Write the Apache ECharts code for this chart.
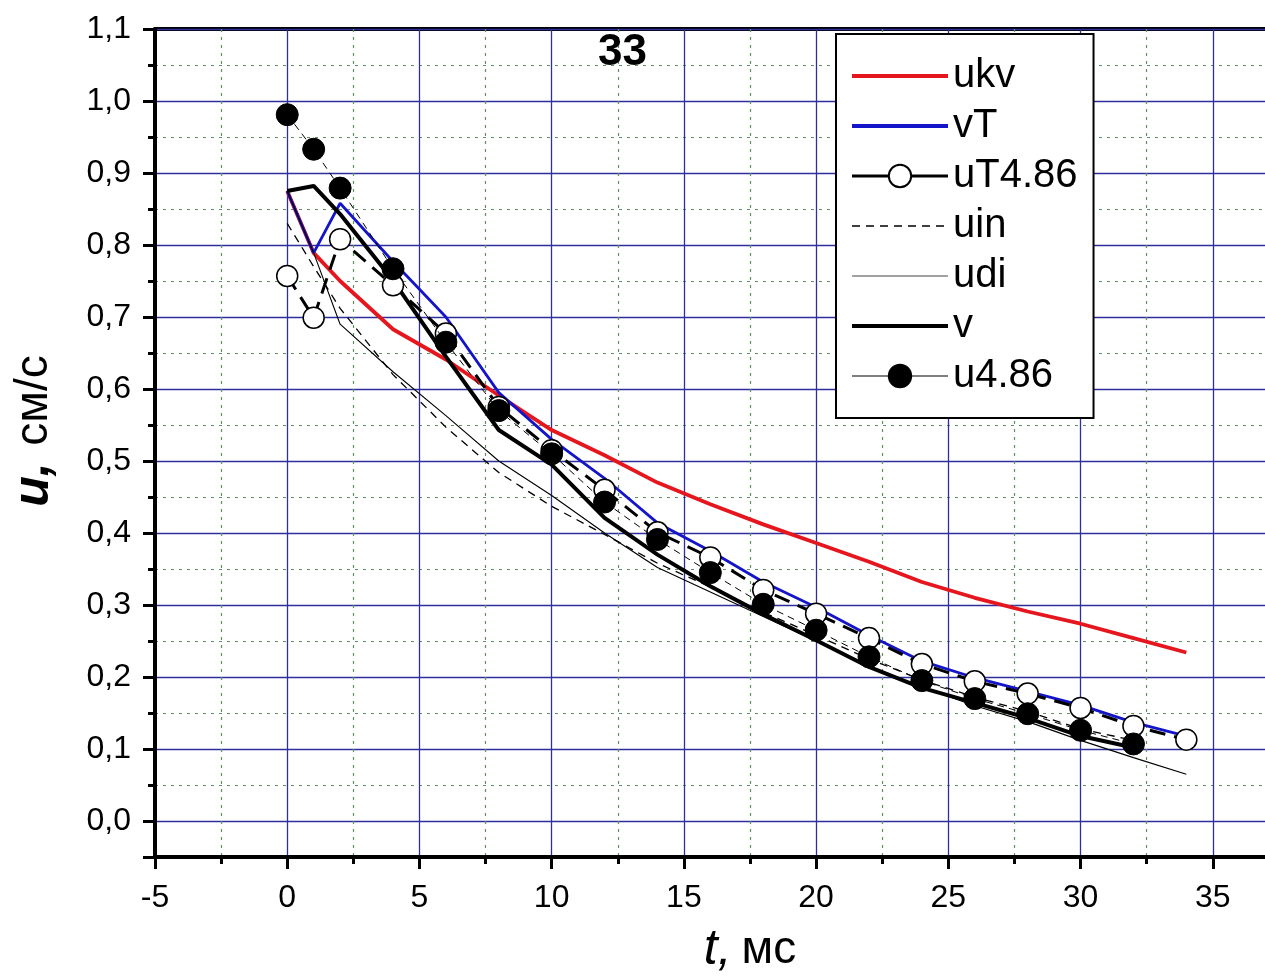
<!DOCTYPE html>
<html>
<head>
<meta charset="utf-8">
<script src="https://cdn.jsdelivr.net/npm/echarts@6/dist/echarts.min.js"></script>
<style>
  html, body { margin: 0; padding: 0; background: #fff; overflow: hidden; }
  /* the plot runs on past the right edge of the window, as the grid does */
  #chart { width: 1345px; height: 979px; }
</style>
</head>
<body>
<div id="chart"></div>
<script>
// Time grids (ms)
const tLong = [0, 1, 2, 4, 6, 8, 10, 12, 14, 16, 18, 20, 22, 24, 26, 28, 30, 32, 34];
const tShort = [0, 1, 2, 4, 6, 8, 10, 12, 14, 16, 18, 20, 22, 24, 26, 28, 30, 32];

// Velocity series (cm/s)
const ukv = [0.875, 0.789, 0.750, 0.683, 0.641, 0.591, 0.543, 0.508, 0.470, 0.440, 0.412, 0.386, 0.360, 0.332, 0.310, 0.291, 0.274, 0.254, 0.234];
const vT = [0.875, 0.789, 0.858, 0.777, 0.700, 0.595, 0.530, 0.476, 0.414, 0.375, 0.332, 0.297, 0.258, 0.222, 0.199, 0.180, 0.161, 0.137, 0.118];
const uT486 = [0.757, 0.699, 0.808, 0.744, 0.677, 0.575, 0.515, 0.460, 0.401, 0.366, 0.321, 0.288, 0.254, 0.218, 0.194, 0.177, 0.157, 0.132, 0.113];
const uin = [0.830, 0.770, 0.712, 0.620, 0.547, 0.484, 0.437, 0.398, 0.358, 0.325, 0.290, 0.258, 0.225, 0.196, 0.172, 0.152, 0.128, 0.112];
const udi = [0.875, 0.789, 0.690, 0.624, 0.563, 0.500, 0.452, 0.400, 0.352, 0.318, 0.284, 0.250, 0.215, 0.186, 0.160, 0.138, 0.112, 0.088, 0.065];
const v = [0.875, 0.882, 0.843, 0.751, 0.645, 0.543, 0.495, 0.421, 0.370, 0.326, 0.287, 0.251, 0.214, 0.185, 0.164, 0.143, 0.118, 0.102];
const u486 = [0.981, 0.933, 0.879, 0.767, 0.665, 0.570, 0.510, 0.443, 0.391, 0.345, 0.301, 0.265, 0.228, 0.195, 0.170, 0.149, 0.126, 0.107];

const chartTitle = '33';

const zip = (ts, vs) => vs.map((y, i) => [ts[i], y]);

const SANS = "'Liberation Sans', Arial, sans-serif";
const MAJOR = '#2e2e9e';
const MINOR = '#5f8f62';
const RED = '#e5161d';
const BLUE = '#1414c8';

const chart = echarts.init(document.getElementById('chart'), null, { renderer: 'canvas' });

const commaFmt = (val) => (val < -0.001 ? '' : val.toFixed(1).replace('.', ','));
const noMarker = { opacity: 0 };

chart.setOption({
  animation: false,
  backgroundColor: '#fff',
  title: {
    text: chartTitle,
    left: 593,
    top: 26,
    textStyle: { fontFamily: SANS, fontWeight: 'bold', fontSize: 44, color: '#000' }
  },
  grid: { left: 155, top: 29, right: 0, bottom: 122, containLabel: false, outerBoundsMode: 'none' },
  legend: {
    orient: 'vertical',
    left: 836,
    top: 34,
    padding: [22, 16, 22, 14],
    itemWidth: 96,
    itemHeight: 28,
    itemGap: 10,
    backgroundColor: '#fff',
    borderColor: '#000',
    borderWidth: 2,
    textStyle: { fontFamily: SANS, fontSize: 40, color: '#000' },
    data: [
      { name: 'ukv', itemStyle: noMarker, lineStyle: { color: RED, width: 4 } },
      { name: 'vT', itemStyle: noMarker, lineStyle: { color: BLUE, width: 4 } },
      { name: 'uT4.86', lineStyle: { type: 'solid', width: 3, color: '#000' } },
      { name: 'uin', itemStyle: noMarker, lineStyle: { type: [8, 6], width: 1.5, color: '#000' } },
      { name: 'udi', itemStyle: noMarker, lineStyle: { width: 1, color: '#444' } },
      { name: 'v', itemStyle: noMarker, lineStyle: { width: 4, color: '#000' } },
      { name: 'u4.86', lineStyle: { type: 'solid', color: '#555', width: 1.5 } }
    ]
  },
  xAxis: [
    {
      type: 'value',
      min: -5,
      max: 40,
      interval: 5,
      position: 'bottom',
      name: '{i|t,}   {n|мс}',
      nameLocation: 'middle',
      nameGap: 68,
      nameTextStyle: {
        rich: {
          i: { fontFamily: SANS, fontStyle: 'italic', fontSize: 50, color: '#000' },
          n: { fontFamily: SANS, fontSize: 46, color: '#000' }
        }
      },
      axisLine: { show: true, onZero: false, lineStyle: { color: '#000', width: 4 } },
      axisTick: { show: true, length: 12, lineStyle: { color: '#000', width: 3 } },
      minorTick: { show: true, splitNumber: 2, length: 7, lineStyle: { color: '#000', width: 3 } },
      axisLabel: {
        margin: 25,
        fontFamily: SANS,
        fontSize: 32,
        color: '#000',
        formatter: (val) => (val % 5 === 0 ? String(val) : '')
      },
      splitLine: { show: true, lineStyle: { color: MAJOR, width: 1.3 } },
      minorSplitLine: { show: true, lineStyle: { color: MINOR, width: 1.2, type: [3, 5] } },
      z: 2
    },
    {
      type: 'value',
      min: -5,
      max: 40,
      interval: 5,
      position: 'top',
      axisLine: { show: true, onZero: false, lineStyle: { color: '#000', width: 4 } },
      axisTick: { show: false },
      axisLabel: { show: false },
      splitLine: { show: false }
    }
  ],
  yAxis: [
    {
      type: 'value',
      min: -0.05,
      max: 1.1,
      splitNumber: 11,
      position: 'left',
      name: '{i|u,}     {n|см/с}',
      nameLocation: 'middle',
      nameRotate: 90,
      nameGap: 96,
      nameTextStyle: {
        padding: [0, 0, 0, 24],
        rich: {
          i: { fontFamily: SANS, fontStyle: 'italic', fontWeight: 'bold', fontSize: 50, color: '#000' },
          n: { fontFamily: SANS, fontSize: 46, color: '#000' }
        }
      },
      axisLine: { show: true, onZero: false, lineStyle: { color: '#000', width: 4 } },
      axisTick: { show: true, length: 12, lineStyle: { color: '#000', width: 3 } },
      axisLabel: { margin: 24, fontFamily: SANS, fontSize: 32, color: '#000', formatter: commaFmt },
      splitLine: { show: true, lineStyle: { color: MAJOR, width: 1.3 } },
      z: 2
    },
    {
      // fine subdivision: dotted lines and short ticks every 0.05
      type: 'value',
      min: -0.05,
      max: 1.1,
      interval: 0.05,
      position: 'left',
      axisLine: { show: false, onZero: false },
      axisTick: { show: true, length: 7, lineStyle: { color: '#000', width: 3 } },
      axisLabel: { show: false },
      splitLine: { show: true, lineStyle: { color: MINOR, width: 1.2, type: [3, 5] } },
      z: 1
    }
  ],
  series: [
    {
      name: 'ukv', type: 'line', data: zip(tLong, ukv),
      symbol: 'none', lineStyle: { color: RED, width: 3.8 }, itemStyle: { color: RED }, z: 3
    },
    {
      name: 'vT', type: 'line', data: zip(tLong, vT),
      symbol: 'none', lineStyle: { color: BLUE, width: 2.8 }, itemStyle: { color: BLUE }, z: 3
    },
    {
      name: 'uT4.86', type: 'line', data: zip(tLong, uT486),
      symbol: 'circle', symbolSize: 21,
      lineStyle: { color: '#000', width: 3, type: [16, 9] },
      itemStyle: { color: '#fff', borderColor: '#000', borderWidth: 1.5 }, z: 4
    },
    {
      name: 'uin', type: 'line', data: zip(tShort, uin),
      symbol: 'none', lineStyle: { color: '#000', width: 1.3, type: [8, 6] }, itemStyle: { color: '#000' }, z: 3
    },
    {
      name: 'udi', type: 'line', data: zip(tLong, udi),
      symbol: 'none', lineStyle: { color: '#000', width: 1.1 }, itemStyle: { color: '#000' }, z: 3
    },
    {
      name: 'v', type: 'line', data: zip(tShort, v),
      symbol: 'none', lineStyle: { color: '#000', width: 4 }, itemStyle: { color: '#000' }, z: 3
    },
    {
      name: 'u4.86', type: 'line', data: zip(tShort, u486),
      symbol: 'circle', symbolSize: 22,
      lineStyle: { color: '#000', width: 1, type: [7, 5] },
      itemStyle: { color: '#000', borderColor: '#000', borderWidth: 1 }, z: 5
    }
  ]
});
</script>
</body>
</html>
